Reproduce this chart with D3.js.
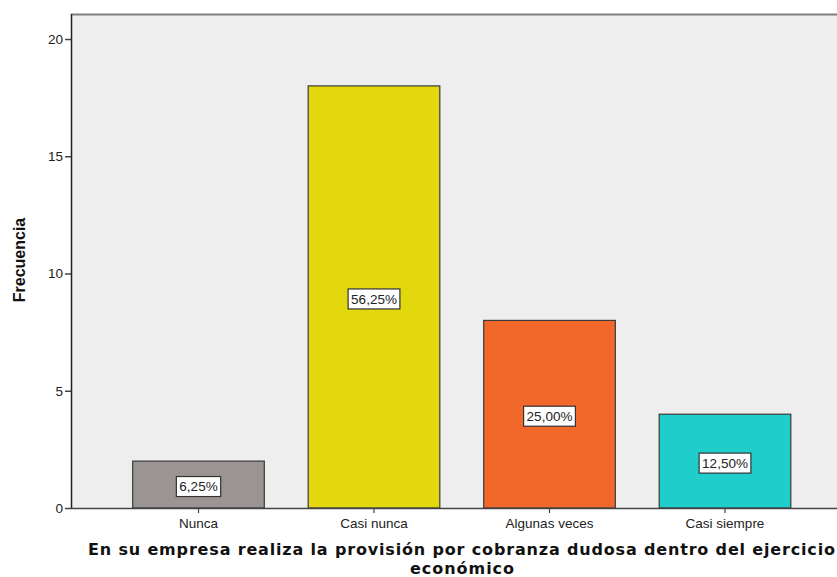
<!DOCTYPE html>
<html>
<head>
<meta charset="utf-8">
<script src="https://cdn.jsdelivr.net/npm/d3@7"></script>
<style>
  html, body { margin: 0; padding: 0; background: #ffffff; }
  svg { display: block; }
</style>
</head>
<body>
<svg id="chart" width="837" height="577"></svg>
<script>
// Frequency counts per answer category
const categories = ["Nunca", "Casi nunca", "Algunas veces", "Casi siempre"];
const counts = [2, 18, 8, 4];
const percentLabels = ["6,25%", "56,25%", "25,00%", "12,50%"];
const barColors = ["#9a9492", "#e3d70e", "#f2682b", "#1fcdca"];
const yTicks = [0, 5, 10, 15, 20];

const svg = d3.select("#chart");

// Plot frame (extends past the right edge of the view)
const frame = { left: 71, top: 14, right: 852, bottom: 508 };

const x = d3.scaleBand()
  .domain(categories)
  .range([110.75, 812.75])
  .paddingInner(0.25)
  .paddingOuter(0.125);

const y = d3.scaleLinear()
  .domain([0, 20])
  .range([frame.bottom, 39]);

// Plot background
svg.append("rect")
  .attr("x", frame.left)
  .attr("y", frame.top)
  .attr("width", frame.right - frame.left)
  .attr("height", frame.bottom - frame.top)
  .attr("fill", "#eeeeee");

// Top border line
svg.append("line")
  .attr("x1", frame.left).attr("x2", frame.right)
  .attr("y1", frame.top + 0.5).attr("y2", frame.top + 0.5)
  .attr("stroke", "#7f7f7f").attr("stroke-width", 2);

// Bars
const data = categories.map((c, i) => ({ c, v: counts[i], p: percentLabels[i], col: barColors[i] }));

svg.append("g").selectAll("rect").data(data).join("rect")
  .attr("x", d => x(d.c))
  .attr("y", d => y(d.v))
  .attr("width", x.bandwidth())
  .attr("height", d => y(0) - y(d.v))
  .attr("fill", d => d.col)
  .attr("stroke", "#3a3a3a")
  .attr("stroke-width", 1.2);

// Percentage labels in boxes
const lab = svg.append("g").selectAll("g").data(data).join("g")
  .attr("transform", d => `translate(${x(d.c) + x.bandwidth() / 2},${y(d.v / 2) + 2})`);

lab.append("text")
  .attr("text-anchor", "middle")
  .attr("dy", "0.36em")
  .attr("font-family", "Liberation Sans, Arial, sans-serif")
  .attr("font-size", 13.5)
  .attr("fill", "#222")
  .text(d => d.p)
  .each(function () {
    const b = this.getBBox();
    d3.select(this.parentNode).insert("rect", "text")
      .attr("x", b.x - 3).attr("y", -10)
      .attr("width", b.width + 6).attr("height", 20)
      .attr("fill", "#ffffff")
      .attr("stroke", "#333").attr("stroke-width", 1.2);
  });

// Y axis
const yAxis = d3.axisLeft(y).tickValues(yTicks).tickSize(6).tickPadding(2);
const gy = svg.append("g")
  .attr("transform", `translate(${frame.left},0)`)
  .call(yAxis);
gy.select(".domain").attr("d", `M0.5,${frame.top}V${frame.bottom}`).attr("stroke", "#222").attr("stroke-width", 1.5);
gy.selectAll(".tick line").attr("stroke", "#444").attr("stroke-width", 1.5);
gy.selectAll(".tick text")
  .attr("font-family", "Liberation Sans, Arial, sans-serif")
  .attr("font-size", 13.5)
  .attr("fill", "#222");

// X axis
const xAxis = d3.axisBottom(x).tickSize(5).tickPadding(5);
const gx = svg.append("g")
  .attr("transform", `translate(0,${frame.bottom})`)
  .call(xAxis);
gx.select(".domain").attr("d", `M${frame.left},0.5H${frame.right}`).attr("stroke", "#444").attr("stroke-width", 1.5);
gx.selectAll(".tick line").attr("stroke", "#444").attr("stroke-width", 1.2);
gx.selectAll(".tick text")
  .attr("font-family", "Liberation Sans, Arial, sans-serif")
  .attr("font-size", 13.5)
  .attr("fill", "#222");

// Axis titles
svg.append("text")
  .attr("transform", "translate(25,260) rotate(-90)")
  .attr("text-anchor", "middle")
  .attr("font-family", "Liberation Sans, Arial, sans-serif")
  .attr("font-weight", "bold")
  .attr("font-size", 16)
  .attr("fill", "#111")
  .text("Frecuencia");

const titleFont = "DejaVu Sans, Verdana, sans-serif";
svg.append("text")
  .attr("x", 88).attr("y", 555)
  .attr("textLength", 747)
  .attr("lengthAdjust", "spacing")
  .attr("font-family", titleFont)
  .attr("font-weight", "bold")
  .attr("font-size", 16)
  .attr("fill", "#111")
  .text("En su empresa realiza la provisión por cobranza dudosa dentro del ejercicio");
svg.append("text")
  .attr("x", 410).attr("y", 574)
  .attr("textLength", 104)
  .attr("lengthAdjust", "spacing")
  .attr("font-family", titleFont)
  .attr("font-weight", "bold")
  .attr("font-size", 16)
  .attr("fill", "#111")
  .text("económico");
</script>
</body>
</html>
